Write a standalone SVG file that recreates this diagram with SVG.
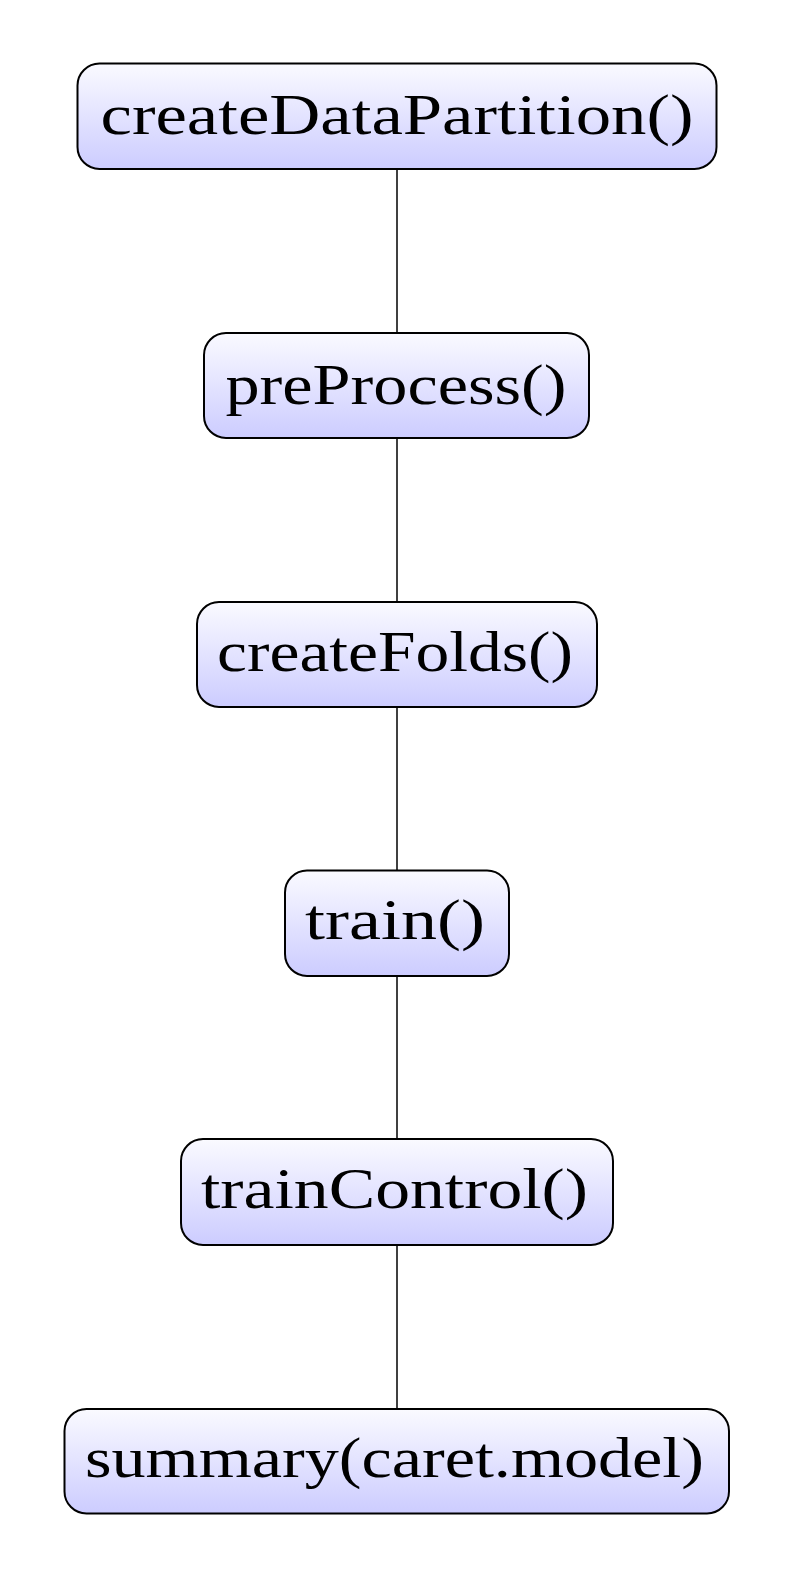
<svg xmlns="http://www.w3.org/2000/svg" width="794" height="1577" viewBox="0 0 794 1577">
<defs>
<linearGradient id="g" x1="0" y1="0" x2="0" y2="1">
<stop offset="0" stop-color="#fafaff"/>
<stop offset="1" stop-color="#ccccff"/>
</linearGradient>
<style>
.box{fill:url(#g);stroke:#000;stroke-width:2}
.t{font-family:"Liberation Serif","DejaVu Serif",serif;font-size:56px;fill:#000;text-anchor:middle}
.c{stroke:#000;stroke-width:1.5;fill:none}
</style>
</defs>
<rect width="794" height="1577" fill="#fff"/>
<g id="connectors">
<line class="c" x1="397" y1="169" x2="397" y2="333"/>
<line class="c" x1="397" y1="438" x2="397" y2="602"/>
<line class="c" x1="397" y1="707" x2="397" y2="870"/>
<line class="c" x1="397" y1="976" x2="397" y2="1139"/>
<line class="c" x1="397" y1="1245" x2="397" y2="1409"/>
</g>
<g id="n1">
<rect class="box" x="77.5" y="63.5" width="639" height="105.5" rx="22"/>
<text class="t" x="397" y="134" textLength="593" lengthAdjust="spacingAndGlyphs">createDataPartition()</text>
</g>
<g id="n2">
<rect class="box" x="204" y="333" width="385" height="105" rx="22"/>
<text class="t" x="396" y="403.5" textLength="341" lengthAdjust="spacingAndGlyphs">preProcess()</text>
</g>
<g id="n3">
<rect class="box" x="197" y="602" width="400" height="105" rx="22"/>
<text class="t" x="395" y="671" textLength="356" lengthAdjust="spacingAndGlyphs">createFolds()</text>
</g>
<g id="n4">
<rect class="box" x="285" y="870.5" width="224" height="105.5" rx="22"/>
<text class="t" x="395" y="939" textLength="180" lengthAdjust="spacingAndGlyphs">train()</text>
</g>
<g id="n5">
<rect class="box" x="181" y="1139" width="432" height="106" rx="22"/>
<text class="t" x="394.5" y="1207.5" textLength="387" lengthAdjust="spacingAndGlyphs">trainControl()</text>
</g>
<g id="n6">
<rect class="box" x="64.5" y="1409" width="664.5" height="104.5" rx="22"/>
<text class="t" x="394.5" y="1477" textLength="619" lengthAdjust="spacingAndGlyphs">summary(caret.model)</text>
</g>
</svg>
